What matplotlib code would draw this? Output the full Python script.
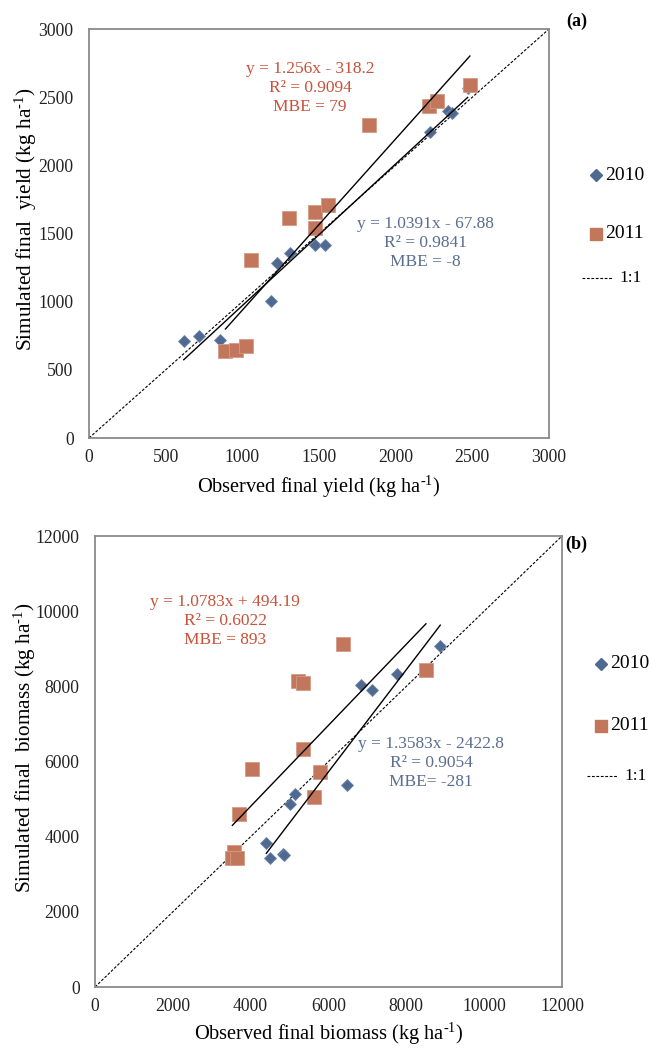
import matplotlib
matplotlib.use("Agg")
import matplotlib.pyplot as plt
from matplotlib.lines import Line2D
import numpy as np

plt.rcParams['font.family'] = ['Liberation Serif', 'DejaVu Serif']
plt.rcParams['mathtext.fontset'] = 'custom'
plt.rcParams['mathtext.rm'] = 'Liberation Serif'
plt.rcParams['mathtext.it'] = 'Liberation Serif:italic'

# ---------------- data: panel (a) final yield ----------------
yield_obs_2010 = [618, 716, 853, 1186, 1229, 1314, 1473, 1540, 2223, 2343, 2365, 2469]
yield_sim_2010 = [709, 746, 721, 1007, 1284, 1357, 1413, 1418, 2244, 2396, 2384, 2567]
yield_obs_2011 = [890, 957, 1027, 1059, 1303, 1475, 1560, 1475, 1823, 2219, 2271, 2484]
yield_sim_2011 = [641, 648, 672, 1308, 1614, 1655, 1707, 1540, 2298, 2433, 2469, 2592]
yield_fit_2010 = (1.0391, -67.88)
yield_fit_2011 = (1.256, -318.2)
yield_ticks = [0, 500, 1000, 1500, 2000, 2500, 3000]

# ---------------- data: panel (b) final biomass ----------------
bio_obs_2010 = [8872, 7761, 6838, 7120, 6480, 5128, 5000, 4402, 4487, 4829, 4850, 5641]
bio_sim_2010 = [9073, 8319, 8027, 7894, 5380, 5140, 4880, 3840, 3420, 3550, 3500, 5055]
bio_obs_2011 = [6368, 8504, 5214, 5342, 5342, 4043, 5790, 5624, 3692, 3580, 3530, 3640]
bio_sim_2011 = [9118, 8426, 8142, 8098, 6330, 5800, 5730, 5050, 4610, 3600, 3420, 3420]
bio_fit_2010 = (1.3583, -2422.8)
bio_fit_2011 = (1.0783, 494.19)
bio_ticks = [0, 2000, 4000, 6000, 8000, 10000, 12000]

series_labels = ['2010', '2011', '1:1']

# ---------------- style ----------------
C_DIA = '#4F6990'
C_SQ = '#C2765B'
C_RED_TXT = '#C8523A'
C_BLUE_TXT = '#5B6E90'
SPINE = '#8A8A8A'

W, H = 649, 1048
fig = plt.figure(figsize=(W / 100, H / 100), dpi=100)


def fx(px):
    return px / W


def fy(py):
    return 1 - py / H


def panel(rect, obs10, sim10, obs11, sim11, fit10, fit11, ticks, xlab, ylab,
          red_txt, red_pos, blue_txt, blue_pos, letter, letter_pos, leg,
          ylab_px, xlab_py):
    l, t, r, b = rect
    ax = fig.add_axes([fx(l), fy(b), fx(r) - fx(l), fy(t) - fy(b)])
    lim = ticks[-1]
    ax.set_xlim(0, lim)
    ax.set_ylim(0, lim)
    ax.set_xticks(ticks)
    ax.set_yticks(ticks)
    ax.tick_params(length=0, labelsize=12.7, colors='#222222')
    ax.tick_params(axis='x', pad=8)
    ax.tick_params(axis='y', pad=11)
    for s in ax.spines.values():
        s.set_color(SPINE)
        s.set_linewidth(1.3)
    # 1:1 line
    ax.plot([0, lim], [0, lim], ls=(0, (2.5, 1.5)), color='black', lw=0.8, zorder=2)
    # data
    ax.plot(obs10, sim10, ls='none', marker='D', ms=6.6, color=C_DIA,
            markeredgecolor='#6F86AA', markeredgewidth=0.6, zorder=3)
    ax.plot(obs11, sim11, ls='none', marker='s', ms=9.4, color=C_SQ,
            markeredgecolor='#D49A86', markeredgewidth=0.6, zorder=4)
    # trend lines
    for obs, fit in ((obs11, fit11), (obs10, fit10)):
        xs = np.array([min(obs), max(obs)])
        ax.plot(xs, fit[0] * xs + fit[1], color='black', lw=1.0, zorder=5)
    ax.set_xlabel(xlab, fontsize=14.7)
    ax.set_ylabel(ylab, fontsize=15.3)
    w_px = r - l
    h_px = b - t
    ax.yaxis.set_label_coords((ylab_px[0] - l) / w_px, (b - ylab_px[1]) / h_px)
    ax.xaxis.set_label_coords(0.5, (b - xlab_py) / h_px)
    ax.xaxis.label.set_va('center')
    ax.yaxis.label.set_va('center')
    # annotations
    fig.text(fx(red_pos[0]), fy(red_pos[1]), red_txt, color=C_RED_TXT,
             fontsize=12.5, ha='center', va='center', linespacing=1.22)
    fig.text(fx(blue_pos[0]), fy(blue_pos[1]), blue_txt, color=C_BLUE_TXT,
             fontsize=12.5, ha='center', va='center', linespacing=1.22)
    fig.text(fx(letter_pos[0]), fy(letter_pos[1]), letter, fontsize=13,
             fontweight='bold', ha='center', va='center')
    # legend (manual, outside axes)
    mx, y1, y2, y3 = leg
    fig.add_artist(Line2D([fx(mx)], [fy(y1)], marker='D', ms=6.0, color=C_DIA,
                          ls='none', transform=fig.transFigure))
    fig.add_artist(Line2D([fx(mx)], [fy(y2)], marker='s', ms=8.5, color=C_SQ,
                          ls='none', transform=fig.transFigure))
    fig.add_artist(Line2D([fx(mx - 14), fx(mx + 16)], [fy(y3), fy(y3)],
                          ls=(0, (2.5, 1.5)), color='black', lw=0.8,
                          transform=fig.transFigure))
    fig.text(fx(mx + 9), fy(y1), series_labels[0], fontsize=14, va='center', ha='left')
    fig.text(fx(mx + 9), fy(y2), series_labels[1], fontsize=14, va='center', ha='left')
    fig.text(fx(mx + 23), fy(y3), series_labels[2], fontsize=12.5, va='center', ha='left')
    return ax


unit = r' (kg ha$^{\mathregular{‐1}}$)'

panel((89, 29, 549, 438), yield_obs_2010, yield_sim_2010, yield_obs_2011, yield_sim_2011,
      yield_fit_2010, yield_fit_2011, yield_ticks,
      'Observed final yield' + unit, 'Simulated final  yield' + unit,
      'y = 1.256x - 318.2\nR² = 0.9094\nMBE = 79', (310, 88),
      'y = 1.0391x - 67.88\nR² = 0.9841\nMBE = -8', (425, 243),
      '(a)', (577, 21), (596, 175, 234, 278), (26, 219), 487)

panel((95, 536, 562, 987), bio_obs_2010, bio_sim_2010, bio_obs_2011, bio_sim_2011,
      bio_fit_2010, bio_fit_2011, bio_ticks,
      'Observed final biomass' + unit, 'Simulated final  biomass' + unit,
      'y = 1.0783x + 494.19\nR² = 0.6022\nMBE = 893', (225, 621),
      'y = 1.3583x - 2422.8\nR² = 0.9054\nMBE= -281', (431, 763),
      '(b)', (576, 544), (601, 664, 726, 776), (25, 748), 1034)

fig.savefig('out.png', dpi=100)
